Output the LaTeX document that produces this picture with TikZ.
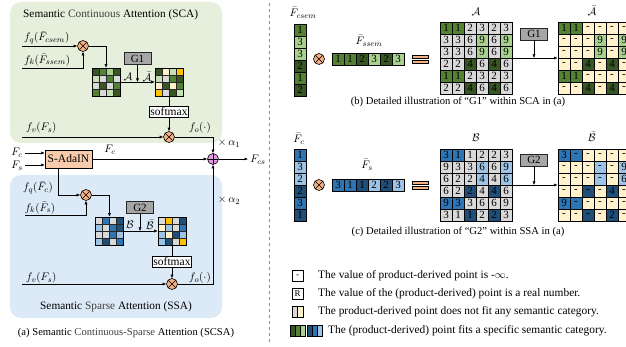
\documentclass[tikz,border=0pt]{standalone}
\usepackage{fontspec}
\setmainfont{Liberation Serif}
\usetikzlibrary{arrows.meta,calc}
\definecolor{scabg}{HTML}{E6EFDC}
\definecolor{ssabg}{HTML}{DCE9F6}
\definecolor{gA}{HTML}{548235}
\definecolor{gB}{HTML}{A9D18E}
\definecolor{gC}{HTML}{375623}
\definecolor{gL}{HTML}{C5E0B4}
\definecolor{gr}{HTML}{D9D9D9}
\definecolor{yl}{HTML}{FFF2CC}
\definecolor{og}{HTML}{FFC000}
\definecolor{bA}{HTML}{2E75B6}
\definecolor{bB}{HTML}{9DC3E6}
\definecolor{bC}{HTML}{1F4E79}
\definecolor{orng}{HTML}{F4B183}
\definecolor{pnk}{HTML}{E39BE6}
\definecolor{ada}{HTML}{F8CBAD}
\definecolor{gbox}{HTML}{A6A6A6}
\definecolor{soft}{HTML}{404040}
\tikzset{
 arr/.style={-{Latex[length=3.5pt,width=3pt]}, line width=0.5pt},
 ln/.style={line width=0.5pt},
 otimes/.style={circle, draw, fill=orng, minimum size=11pt, inner sep=0, line width=0.6pt,
   path picture={\draw[line width=0.6pt] (path picture bounding box.north west)--(path picture bounding box.south east) (path picture bounding box.north east)--(path picture bounding box.south west);}},
 oplus/.style={circle, draw, fill=pnk, minimum size=11pt, inner sep=0, line width=0.6pt,
   path picture={\draw[line width=0.6pt] (path picture bounding box.north)--(path picture bounding box.south) (path picture bounding box.west)--(path picture bounding box.east);}},
 bcell/.style={draw, line width=0.5pt, minimum size=12pt, inner sep=0, font=\fontsize{11}{11}\selectfont},
 scell/.style={draw=black!85, line width=0.4pt, minimum size=7pt, inner sep=0},
 gbx/.style={draw=black!85, fill=gbox, line width=0.6pt, minimum width=27pt, minimum height=12pt, inner sep=0, font=\fontsize{11}{11}\selectfont},
 smbx/.style={draw, fill=white, line width=0.5pt, inner sep=1pt, minimum height=11pt, font=\fontsize{11.5}{11.5}\selectfont},
 lbl/.style={font=\fontsize{11}{12}\selectfont, inner sep=0},
 ttl/.style={font=\fontsize{11.3}{12}\selectfont, inner sep=0},
 captxt/.style={font=\fontsize{10.6}{12}\selectfont, inner sep=0},
 leg/.style={font=\fontsize{11.4}{12}\selectfont, inner sep=0, anchor=west},
 eqbar/.style={draw, fill=orng, line width=0.5pt, minimum width=16pt, minimum height=3pt, inner sep=0},
 icon/.style={draw, line width=0.5pt, minimum size=11pt, inner sep=0, font=\fontsize{9}{9}\selectfont},
 stripe/.style={draw, line width=0.5pt, minimum width=5pt, minimum height=11pt, inner sep=0},
}
\newcommand\bigmat[4]{%
  \foreach [count=\r] \rowl in {#4} {
    \foreach [count=\c] \cl/\tx in \rowl {
      \node[bcell, fill=\cl] (#1-\r-\c) at ({#2+(\c-0.5)*12},{#3+(\r-0.5)*12}) {\tx};
    }
  }
  \node[draw, line width=0.8pt, minimum width=72pt, minimum height=72pt, inner sep=0] (#1) at ({#2+36},{#3+36}) {};
}
\newcommand\smallmat[4]{%
  \foreach [count=\i from 0] \cl in {#4} {
    \pgfmathtruncatemacro\rr{div(\i,4)}
    \pgfmathtruncatemacro\cc{mod(\i,4)}
    \node[scell, fill=\cl] (#1-\i) at ({#2+(\cc-1.5)*7},{#3+(\rr-1.5)*7}) {};
  }
  \node[draw, line width=0.6pt, minimum size=28pt, inner sep=0] (#1) at (#2,#3) {};
}
\newcommand\colvec[4]{%
  \foreach [count=\r] \cl/\tx in {#4} {
    \node[bcell, fill=\cl] (#1-\r) at ({#2+6},{#3+(\r-0.5)*12}) {\tx};
  }
  \node[draw, line width=0.8pt, minimum width=12pt, minimum height=72pt, inner sep=0] (#1) at ({#2+6},{#3+36}) {};
}
\newcommand\rowvec[4]{%
  \foreach [count=\c] \cl/\tx in {#4} {
    \node[bcell, fill=\cl] (#1-\c) at ({#2+(\c-0.5)*12},{#3+6}) {\tx};
  }
  \node[draw, line width=0.8pt, minimum width=72pt, minimum height=12pt, inner sep=0] (#1) at ({#2+36},{#3+6}) {};
}
\begin{document}
\begin{tikzpicture}[x=1pt,y=-1pt]
\useasboundingbox (0,0) rectangle (626,347);
\clip (0,0) rectangle (626,347);
% ---------------- left panel backgrounds
\fill[scabg, rounded corners=11pt] (10,2) rectangle (222,143);
\fill[ssabg, rounded corners=11pt] (10,175) rectangle (222,318);
\node[ttl, anchor=west] (scat) at (23,15) {Semantic \textcolor{soft}{Continuous} Attention (SCA)};
\node[ttl] (ssat) at (116,307) {Semantic \textcolor{soft}{Sparse} Attention (SSA)};
\node[captxt] (capa) at (126,333) {(a) Semantic \textcolor{soft}{Continuous-Sparse} Attention (SCSA)};
% ---------------- SCA
\node[lbl, anchor=west] (fq1) at (24,38) {$f_q(\bar{F}_{csem})$};
\node[lbl, anchor=west] (fk1) at (24,60) {$f_k(\bar{F}_{ssem})$};
\node[otimes] (m1) at (83,46) {};
\coordinate (fq1s) at (22,46);
\coordinate (fk1s) at (22,68);
\draw[arr] (fq1s) -- (m1.west);
\draw[arr] (fk1s) -| (m1.south);
\smallmat{sa}{106}{82}{gC,gA,gB,gC, gL,gr,gA,gr, gr,gC,gr,gA, gA,gr,gL,gC}
\smallmat{sab}{169}{82}{gC,yl,gL,og, gL,gr,gA,gC, yl,gC,yl,gA, og,gr,gC,gL}
\draw[arr] (m1.east) -| (sa.north);
\node[lbl] (la1) at (128,77) {$\mathcal{A}$};
\node[lbl] (lab1) at (147,77) {$\bar{\mathcal{A}}$};
\node[gbx] (g1) at (137.5,58.5) {G1};
\draw[arr] (sa.east) -- (sab.west);
\draw[arr] (g1.south) -- (g1.south |- sa.east);
\node[smbx] (sm1) at (169,111.5) {softmax};
\draw[ln] (sab.south) -- (sm1.north);
\node[otimes] (m2) at (169,137) {};
\draw[arr] (sm1.south) -- (m2.north);
\node[lbl, anchor=west] (fv1) at (26,128) {$f_v(F_s)$};
\coordinate (fv1s) at (22,137);
\draw[arr] (fv1s) -- (m2.west);
\node[lbl] (fo1) at (200,128) {$f_o(\cdot)$};
% ---------------- middle
\node[oplus] (plus) at (213,159) {};
\draw[arr] (m2.east) -| (plus.north);
\node[lbl] (al1) at (229,143) {$\times\,\alpha_1$};
\node[draw, fill=ada, line width=0.6pt, minimum width=47pt, minimum height=18pt, inner sep=0, font=\fontsize{11.5}{11.5}\selectfont] (ada) at (68.5,159) {S-AdaIN};
\node[lbl] (fcl) at (17,153) {$F_c$};
\node[lbl] (fsl) at (17,166) {$F_s$};
\coordinate (fcin) at (25,153);
\coordinate (fsin) at (25,165);
\draw[arr] (fcin) -- (fcin -| ada.west);
\draw[arr] (fsin) -- (fsin -| ada.west);
\draw[arr] (ada.east) -- (plus.west);
\node[lbl] (fcm) at (110,150) {$F_c$};
\coordinate (outp) at (248,159);
\draw[arr] (plus.east) -- (outp);
\node[lbl] (fcs) at (258,160) {$F_{cs}$};
% ---------------- SSA
\node[otimes] (m3) at (86,195) {};
\coordinate (adab) at (58,168);
\draw[arr] (adab) |- (m3.west);
\node[lbl] (fq2) at (38,188) {$f_q(\bar{F}_c)$};
\node[lbl] (fk2) at (40,208) {$f_k(\bar{F}_s)$};
\coordinate (fk2s) at (25,215.5);
\draw[arr] (fk2s) -| (m3.south);
\smallmat{sb}{109.5}{231}{gr,bA,gr,bC, bB,gr,bA,bC, gr,gr,bA,bB, bB,bC,gr,bA}
\smallmat{sbb}{172}{231}{gr,og,gr,bC, yl,bB,gr,bA, bB,yl,bC,bB, bB,bC,gr,og}
\draw[arr] (m3.east) -| (sb.north);
\node[lbl] (lb1) at (130,225) {$\mathcal{B}$};
\node[lbl] (lbb1) at (150,225) {$\bar{\mathcal{B}}$};
\node[gbx] (g2) at (140,207.5) {G2};
\draw[arr] (sb.east) -- (sbb.west);
\draw[arr] (g2.south) -- (g2.south |- sb.east);
\node[smbx] (sm2) at (172,261.5) {softmax};
\draw[ln] (sbb.south) -- (sm2.north);
\node[otimes] (m4) at (172,284) {};
\draw[arr] (sm2.south) -- (m4.north);
\node[lbl, anchor=west] (fv2) at (26,278) {$f_v(F_s)$};
\coordinate (fv2s) at (22,284);
\draw[arr] (fv2s) -- (m4.west);
\node[lbl] (fo2) at (200,278) {$f_o(\cdot)$};
\draw[arr] (m4.east) -| (plus.south);
\node[lbl] (al2) at (229,200) {$\times\,\alpha_2$};
% ---------------- separator
\draw[black!45, dashed, line width=0.5pt] (269,3) -- (269,344);
% ---------------- (b)
\node[lbl] (lcsem) at (303,13) {$\bar{F}_{csem}$};
\colvec{cv1}{294}{24}{gA/1,gB/3,gB/3,gC/2,gA/1,gC/2}
\node[otimes] (m5) at (319,59) {};
\node[lbl] (lssem) at (369,41) {$\bar{F}_{ssem}$};
\rowvec{rv1}{332}{53}{gA/1,gA/1,gC/2,gB/3,gC/2,gB/3}
\node[eqbar] (e1a) at (420,57) {};
\node[eqbar] (e1b) at (420,61.5) {};
\node[lbl] (lA) at (476,12) {$\mathcal{A}$};
\bigmat{Am}{440}{22}{{gA/1,gA/1,gr/2,gr/3,gr/2,gr/3},{gr/3,gr/3,gr/6,gB/9,gr/6,gB/9},{gr/3,gr/3,gr/6,gB/9,gr/6,gB/9},{gr/2,gr/2,gC/4,gr/6,gC/4,gr/6},{gA/1,gA/1,gr/2,gr/3,gr/2,gr/3},{gr/2,gr/2,gC/4,gr/6,gC/4,gr/6}}
\node[lbl] (lAb) at (592,11) {$\bar{\mathcal{A}}$};
\bigmat{Abm}{558}{22}{{gA/1,gA/1,yl/-,yl/-,yl/-,yl/-},{yl/-,yl/-,yl/-,gB/9,yl/-,gB/9},{yl/-,yl/-,yl/-,gB/9,yl/-,gB/9},{yl/-,yl/-,gC/4,yl/-,gC/4,yl/-},{gA/1,gA/1,yl/-,yl/-,yl/-,yl/-},{yl/-,yl/-,gC/4,yl/-,gC/4,yl/-}}
\node[gbx] (g1r) at (534,34) {G1};
\draw[arr] (Am.east) -- (Abm.west);
\draw[arr] (g1r.south) -- (g1r.south |- Am.east);
\node[captxt] (capb) at (458,102) {(b) Detailed illustration of ``G1'' within SCA in (a)};
% ---------------- (c)
\node[lbl] (lc) at (299,139) {$\bar{F}_c$};
\colvec{cv2}{294}{149}{bA/1,bB/3,bB/2,bC/2,bA/3,bC/1}
\node[otimes] (m6) at (319,185) {};
\node[lbl] (ls) at (367,165) {$\bar{F}_s$};
\rowvec{rv2}{332}{179}{bA/3,bA/1,bC/1,bB/2,bC/2,bB/3}
\node[eqbar] (e2a) at (420,183) {};
\node[eqbar] (e2b) at (420,187.5) {};
\node[lbl] (lB) at (476,138) {$\mathcal{B}$};
\bigmat{Bm}{440}{149}{{bA/3,bA/1,gr/1,gr/2,gr/2,gr/3},{gr/9,gr/3,gr/3,bB/6,gr/6,bB/9},{gr/6,gr/2,gr/2,bB/4,gr/4,bB/6},{gr/6,gr/2,bC/2,gr/4,bC/4,gr/6},{bA/9,bA/3,gr/3,gr/6,gr/6,gr/9},{gr/3,gr/1,bC/1,gr/2,bC/2,gr/3}}
\node[lbl] (lBb) at (592,137) {$\bar{\mathcal{B}}$};
\bigmat{Bbm}{558}{149}{{bA/3,bA/-,yl/-,yl/-,yl/-,yl/-},{yl/-,yl/-,yl/-,bB/-,yl/-,bB/9},{yl/-,yl/-,yl/-,bB/-,yl/-,bB/6},{yl/-,yl/-,bC/-,yl/-,bC/4,yl/-},{bA/9,bA/-,yl/-,yl/-,yl/-,yl/-},{yl/-,yl/-,bC/-,yl/-,bC/2,yl/-}}
\node[gbx] (g2r) at (534,160) {G2};
\draw[arr] (Bm.east) -- (Bbm.west);
\draw[arr] (g2r.south) -- (g2r.south |- Bm.east);
\node[captxt] (capc) at (458,232) {(c) Detailed illustration of ``G2'' within SSA in (a)};
% ---------------- legend
\node[icon] (ic1) at (297.5,276) {-};
\node[leg] (t1) at (318,276) {The value of product-derived point is -$\infty$.};
\node[icon] (ic2) at (297.5,294) {R};
\node[leg] (t2) at (318,294) {The value of the (product-derived) point is a real number.};
\node[draw, fill=gr, line width=0.5pt, minimum width=5.5pt, minimum height=11pt, inner sep=0] (ic3a) at (294.75,312) {};
\node[draw, fill=yl, line width=0.5pt, minimum width=5.5pt, minimum height=11pt, inner sep=0] (ic3b) at (300.25,312) {};
\node[leg] (t3) at (318,312) {The product-derived point does not fit any semantic category.};
\foreach [count=\k] \cl in {gC,gA,gB} {
  \node[stripe, fill=\cl] (icg\k) at ({288+5*\k},331) {};
}
\foreach [count=\k] \cl in {bC,bA,bB} {
  \node[stripe, fill=\cl] (icb\k) at ({304.5+5*\k},331) {};
}
\node[leg] (t4) at (328,331) {The (product-derived) point fits a specific semantic category.};
\end{tikzpicture}
\end{document}
